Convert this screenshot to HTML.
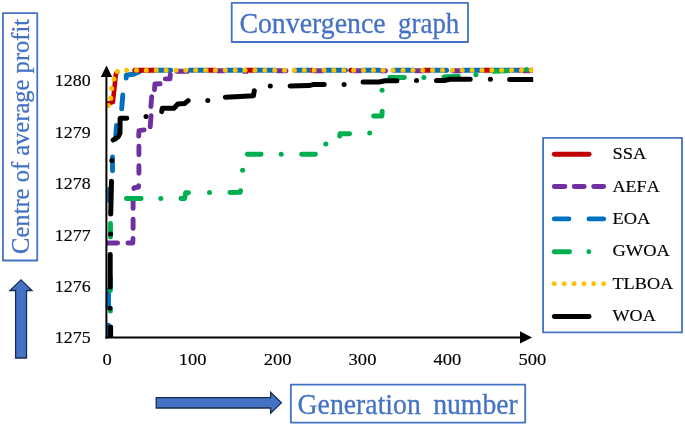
<!DOCTYPE html>
<html lang="en">
<head>
<meta charset="utf-8">
<title>Convergence graph</title>
<style>
html,body{margin:0;padding:0;background:#fff;}
body{width:685px;height:426px;overflow:hidden;}
svg{display:block;will-change:transform;}
text{font-family:"Liberation Serif",serif;}
.tick{font-size:17.9px;fill:#000;font-kerning:none;stroke:#000;stroke-width:0.15px;}
.lab{font-size:27.3px;fill:#4472C4;stroke:#4472C4;stroke-width:0.3px;}
.box{fill:none;stroke:#4472C4;stroke-width:1.8;stroke-linejoin:round;}
.shape{fill:#4472C4;stroke:#172C51;stroke-width:1.3;stroke-linejoin:miter;}
.ln{fill:none;stroke-width:4.9;stroke-linecap:round;stroke-linejoin:round;}
.red{stroke:#C00000;}
.pur{stroke:#7030A0;}
.blu{stroke:#0070C0;}
.grn{stroke:#00B050;}
.blk{stroke:#000;}
.yel{fill:#FFC000;}
</style>
</head>
<body>
<svg width="685" height="426" viewBox="0 0 685 426">
<defs><clipPath id="plot"><rect x="106.5" y="40" width="426.7" height="297.1"/></clipPath></defs>

<!-- title box -->
<rect class="box" x="231.7" y="2.93" width="236.3" height="39.07"/>
<text class="lab" style="font-size:29.2px" y="32.5" xml:space="preserve"><tspan x="239.4" textLength="146.2" lengthAdjust="spacingAndGlyphs">Convergence</tspan> <tspan x="398.05" textLength="61.25" lengthAdjust="spacingAndGlyphs">graph</tspan></text>

<!-- y label box -->
<rect class="box" x="2.93" y="13.1" width="34.32" height="247.4"/>
<text class="lab" style="font-size:25.8px" transform="translate(29.4,253.9) rotate(-90) scale(0.9514,1)" xml:space="preserve">Centre of average profit</text>

<!-- x label box -->
<rect class="box" x="290.85" y="384.7" width="234.35" height="37.9"/>
<text class="lab" style="font-size:28.6px" y="413.7" xml:space="preserve"><tspan x="297.6" textLength="123.2" lengthAdjust="spacingAndGlyphs">Generation</tspan> <tspan x="433.13" textLength="84.7" lengthAdjust="spacingAndGlyphs">number</tspan></text>

<!-- blue arrows -->
<path class="shape" d="M156.2 397.7 H270.6 V392.4 L281.4 402.85 L270.6 413.3 V408 H156.2 Z"/>
<path class="shape" d="M15.6 358 V290.5 H10 L21 279.9 L32 290.5 H26.5 V358 Z"/>

<!-- SERIES -->
<g clip-path="url(#plot)">
<path class="ln red" style="stroke-width:4.6" d="M106.9 103.7 L112.9 102 L114.7 85.4 L115.9 74 L117.2 72"/>
<path class="ln pur"  d="M106 243 L117.6 243 M127.9 243 L132.8 243 L133 238.5 M133.1 228.4 L133.1 219.2 M133.1 208.4 L133.1 198.9 M133.9 188.5 L134.2 187.6 L138.4 187.2 L138.6 185.6 M138.9 173.2 L138.9 165.8 M138.9 154.8 L138.9 146.1 M138.7 136.1 L139 130.6 L144.1 129.9 M150.2 126.8 L151.1 115.6 M150.9 106.5 L151.7 96.7 M154.5 89.7 L154.9 84 L160.1 83.8 M165.3 78.9 L170 78.8 L170.3 74.4"/>
<path class="ln blu"  d="M108.3 338.1 L108.3 325.3 M108.5 307.6 L108.5 289.9 M109.7 201.1 L109.6 188.9 M112.5 170.7 L112.5 156.9 M115.5 139.1 L116.5 125.4 M121.7 108.9 L122.8 94.9 M126.2 78.1 L126.4 75 L133.5 74.2 L138 72.3 L139.8 71.4"/>
<path d="M134.8 70.3 H156" stroke="#C00000" stroke-width="4.9" fill="none"/>
<circle cx="134.8" cy="70.3" r="2.5" fill="#C00000"/>
<path d="M155.5 70.3 H170.6" stroke="#0070C0" stroke-width="4.9" fill="none"/>
<circle cx="170.6" cy="70.3" r="2.5" fill="#0070C0"/>
<path d="M176.8 71.2 H189" stroke="#7030A0" stroke-width="4.9" fill="none"/>
<circle cx="176.8" cy="71.2" r="2.5" fill="#7030A0"/>
<path d="M188.8 70.3 H208.3" stroke="#0070C0" stroke-width="4.9" fill="none"/>
<path d="M208.3 70.3 H216.5" stroke="#C00000" stroke-width="4.9" fill="none"/>
<path d="M216.5 70.8 H225.2" stroke="#7030A0" stroke-width="4.9" fill="none"/>
<path d="M225.2 70.3 H242.8" stroke="#0070C0" stroke-width="4.9" fill="none"/>
<path d="M242.8 71.2 H248" stroke="#7030A0" stroke-width="4.9" fill="none"/>
<path d="M244.5 70.3 H257" stroke="#C00000" stroke-width="4.9" fill="none"/>
<path d="M257 70.3 H277" stroke="#0070C0" stroke-width="4.9" fill="none"/>
<path d="M277 70.8 H285.9" stroke="#7030A0" stroke-width="4.9" fill="none"/>
<circle cx="285.9" cy="70.8" r="2.5" fill="#7030A0"/>
<path d="M294.4 70.3 H310.3" stroke="#0070C0" stroke-width="4.9" fill="none"/>
<circle cx="294.4" cy="70.3" r="2.5" fill="#0070C0"/>
<path d="M310.3 70.3 H312.8" stroke="#C00000" stroke-width="4.9" fill="none"/>
<path d="M312.8 70.8 H324" stroke="#7030A0" stroke-width="4.9" fill="none"/>
<path d="M324 70.3 H345.4" stroke="#0070C0" stroke-width="4.9" fill="none"/>
<circle cx="345.4" cy="70.3" r="2.5" fill="#0070C0"/>
<path d="M350.8 70.3 H352.6" stroke="#C00000" stroke-width="4.9" fill="none"/>
<circle cx="350.8" cy="70.3" r="2.5" fill="#C00000"/>
<path d="M352.6 70.8 H361.4" stroke="#7030A0" stroke-width="4.9" fill="none"/>
<path d="M361.4 70.3 H380.2" stroke="#0070C0" stroke-width="4.9" fill="none"/>
<path d="M380.2 70.8 H385.4" stroke="#7030A0" stroke-width="4.9" fill="none"/>
<circle cx="385.4" cy="70.8" r="2.5" fill="#7030A0"/>
<path d="M393.3 70.3 H415" stroke="#0070C0" stroke-width="4.9" fill="none"/>
<circle cx="393.3" cy="70.3" r="2.5" fill="#0070C0"/>
<path d="M415 70.8 H423.5" stroke="#7030A0" stroke-width="4.9" fill="none"/>
<path d="M423.5 70.3 H430" stroke="#C00000" stroke-width="4.9" fill="none"/>
<path d="M430 70.3 H446.6" stroke="#0070C0" stroke-width="4.9" fill="none"/>
<circle cx="446.6" cy="70.3" r="2.5" fill="#0070C0"/>
<path d="M452.6 70.8 H462" stroke="#7030A0" stroke-width="4.9" fill="none"/>
<circle cx="452.6" cy="70.8" r="2.5" fill="#7030A0"/>
<path d="M462 70.3 H484" stroke="#0070C0" stroke-width="4.9" fill="none"/>
<path d="M484 70.3 H492" stroke="#C00000" stroke-width="4.9" fill="none"/>
<path d="M492 70.3 H519" stroke="#0070C0" stroke-width="4.9" fill="none"/>
<path d="M519 70.3 H523" stroke="#C00000" stroke-width="4.9" fill="none"/>
<path d="M523 70.8 H530" stroke="#7030A0" stroke-width="4.9" fill="none"/>
<path d="M530 70.3 H533.2" stroke="#C00000" stroke-width="4.9" fill="none"/>
<path class="ln grn"  d="M110.4 276.9 L110.4 290.6 M110.5 223.5 L110.5 237.1 M126.4 198.5 L141.2 198.5 M180.9 198.5 L184.6 198.5 L185.6 192.7 L188.5 192.7 M229.9 192.5 L240.2 192.4 L240.5 190.7 M247.3 154.2 L261.1 154.2 M301.6 154.2 L315.4 154.2 M339.7 136.1 L340 133.7 L349.6 133.7 M373.6 116 L382 116 L382.2 111.2 M389.8 77.5 L404.4 77.5 M443.9 76.9 L458.3 76.3 M493.2 71.3 L507.1 70.8"/>
<g fill="#00B050"><circle cx="110.4" cy="311" r="2.5"/><circle cx="160.8" cy="198.5" r="2.5"/><circle cx="209.5" cy="192.5" r="2.5"/><circle cx="242.6" cy="170.2" r="2.5"/><circle cx="281.2" cy="154.2" r="2.5"/><circle cx="325.8" cy="144" r="2.5"/><circle cx="369.7" cy="133.1" r="2.5"/><circle cx="382.1" cy="90.2" r="2.5"/><circle cx="423.9" cy="77.6" r="2.5"/><circle cx="475.9" cy="74.8" r="2.5"/><circle cx="526.5" cy="69.4" r="2.5"/></g>
<g fill="#FFC000"><circle cx="108.2" cy="105.4" r="2.5"/><circle cx="110.8" cy="98.2" r="2.5"/><circle cx="111.7" cy="88.6" r="2.5"/><circle cx="114" cy="79.1" r="2.5"/><circle cx="117.3" cy="71.4" r="2.5"/><circle cx="126.6" cy="70.3" r="2.5"/><circle cx="136.5" cy="70.3" r="2.5"/><circle cx="146.3" cy="70.3" r="2.5"/><circle cx="156.2" cy="70.3" r="2.5"/><circle cx="166.1" cy="70.3" r="2.5"/><circle cx="176" cy="70.3" r="2.5"/><circle cx="185.8" cy="70.3" r="2.5"/><circle cx="195.7" cy="70.3" r="2.5"/><circle cx="205.6" cy="70.3" r="2.5"/><circle cx="215.4" cy="70.3" r="2.5"/><circle cx="225.3" cy="70.3" r="2.5"/><circle cx="235.2" cy="70.3" r="2.5"/><circle cx="245.1" cy="70.3" r="2.5"/><circle cx="254.9" cy="70.3" r="2.5"/><circle cx="264.8" cy="70.3" r="2.5"/><circle cx="274.7" cy="70.3" r="2.5"/><circle cx="284.5" cy="70.3" r="2.5"/><circle cx="294.4" cy="70.3" r="2.5"/><circle cx="304.3" cy="70.3" r="2.5"/><circle cx="314.1" cy="70.3" r="2.5"/><circle cx="324" cy="70.3" r="2.5"/><circle cx="333.9" cy="70.3" r="2.5"/><circle cx="343.8" cy="70.3" r="2.5"/><circle cx="353.6" cy="70.3" r="2.5"/><circle cx="363.5" cy="70.3" r="2.5"/><circle cx="373.4" cy="70.3" r="2.5"/><circle cx="383.2" cy="70.3" r="2.5"/><circle cx="393.1" cy="70.3" r="2.5"/><circle cx="403" cy="70.3" r="2.5"/><circle cx="412.9" cy="70.3" r="2.5"/><circle cx="422.7" cy="70.3" r="2.5"/><circle cx="432.6" cy="70.3" r="2.5"/><circle cx="442.5" cy="70.3" r="2.5"/><circle cx="452.3" cy="70.3" r="2.5"/><circle cx="462.2" cy="70.3" r="2.5"/><circle cx="472.1" cy="70.3" r="2.5"/><circle cx="482" cy="70.3" r="2.5"/><circle cx="491.8" cy="70.3" r="2.5"/><circle cx="501.7" cy="70.3" r="2.5"/><circle cx="511.6" cy="70.3" r="2.5"/><circle cx="521.4" cy="70.3" r="2.5"/><circle cx="531.3" cy="70.3" r="2.5"/></g>
<path class="ln blk" style="stroke-width:5" d="M110.2 287.1 L110.2 254.4 M110.7 214.1 L111.5 181.3 M113.1 140 L118.4 136.6 L120 133 L120.1 118.3 L126.8 118.2 M161.7 111.6 L162.3 108.2 L174 108.2 L177.8 104 L184.5 103.6 L188.1 100.6 M225.3 97.2 L240 96.4 L253.5 95.7 L254.3 90.7 M290.1 85.9 L309 85.6 L313 84.6 L324.2 84.6 M363.1 82 L379 82 L385 80.7 L396.9 80.7 M436.4 80.6 L445 80.4 L450 79.2 L470.2 79.2 M509.6 79.5 L538 79.5"/>
<path d="M110.6 338 V327" stroke="#000" stroke-width="5" stroke-linecap="round" fill="none"/>
<g fill="#000"><circle cx="110.2" cy="308.3" r="2.5"/><circle cx="110.6" cy="234" r="2.5"/><circle cx="111.8" cy="160.5" r="2.5"/><circle cx="146" cy="116.5" r="2.5"/><circle cx="207.8" cy="100.4" r="2.5"/><circle cx="270.3" cy="86" r="2.5"/><circle cx="344.1" cy="84.5" r="2.5"/><circle cx="416.5" cy="80.5" r="2.5"/><circle cx="490.4" cy="79.2" r="2.5"/></g>
</g>

<!-- axes -->
<g id="axes">
<path d="M106.4 338.4 V72" stroke="#000" stroke-width="2" fill="none"/>
<path d="M106.5 65.4 L112.2 77 H100.8 Z" fill="#000"/>
<path d="M105.4 337.45 H524" stroke="#000" stroke-width="2" fill="none"/>
<path d="M532 337.4 L520 331.2 V343.6 Z" fill="#000"/>
</g>

<!-- tick labels -->
<g class="tick" style="font-size:17.2px">
<text x="54.8" y="86.35" textLength="35.8" lengthAdjust="spacingAndGlyphs">1280</text>
<text x="54.8" y="137.75" textLength="35.8" lengthAdjust="spacingAndGlyphs">1279</text>
<text x="54.8" y="189.15" textLength="35.8" lengthAdjust="spacingAndGlyphs">1278</text>
<text x="54.8" y="240.55" textLength="35.8" lengthAdjust="spacingAndGlyphs">1277</text>
<text x="54.8" y="291.95" textLength="35.8" lengthAdjust="spacingAndGlyphs">1276</text>
<text x="54.8" y="343.35" textLength="35.8" lengthAdjust="spacingAndGlyphs">1275</text>
</g>
<g class="tick" style="font-size:17px">
<text x="102.50" y="365.2" textLength="9.27" lengthAdjust="spacingAndGlyphs">0</text>
<text x="178.70" y="365.2" textLength="27.80" lengthAdjust="spacingAndGlyphs">100</text>
<text x="263.65" y="365.2" textLength="27.80" lengthAdjust="spacingAndGlyphs">200</text>
<text x="348.60" y="365.2" textLength="27.80" lengthAdjust="spacingAndGlyphs">300</text>
<text x="433.55" y="365.2" textLength="27.80" lengthAdjust="spacingAndGlyphs">400</text>
<text x="518.50" y="365.2" textLength="27.80" lengthAdjust="spacingAndGlyphs">500</text>
</g>

<!-- legend -->
<g id="legend">
<rect class="box" x="543.1" y="137.85" width="138.9" height="194.55"/>
<path class="ln red" d="M554.3 154.2 H589.1"/>
<path class="ln pur" d="M554.3 186.5 H564.9 M574.2 186.5 H584.2 M593.7 186.5 H603.7"/>
<path class="ln blu" d="M554.3 218.9 H568.9 M589 218.9 H603.7"/>
<path class="ln grn" d="M554.3 251.7 H569.6 M588.8 251.7 h0.01"/>
<g class="yel">
<circle cx="554.3" cy="283.8" r="2.45"/><circle cx="564.2" cy="283.8" r="2.45"/><circle cx="574" cy="283.8" r="2.45"/>
<circle cx="583.9" cy="283.8" r="2.45"/><circle cx="593.7" cy="283.8" r="2.45"/><circle cx="603.7" cy="283.8" r="2.45"/>
</g>
<path class="ln blk" d="M554.3 316.5 H589.1"/>
<g class="tick" style="font-size:16.5px">
<text x="612.5" y="159.3" textLength="33.8" lengthAdjust="spacingAndGlyphs">SSA</text>
<text x="612.5" y="191.6" textLength="47.2" lengthAdjust="spacingAndGlyphs">AEFA</text>
<text x="612.5" y="223.9" textLength="37.9" lengthAdjust="spacingAndGlyphs">EOA</text>
<text x="612.5" y="256.3" textLength="57.3" lengthAdjust="spacingAndGlyphs">GWOA</text>
<text x="612.5" y="288.6" textLength="60.7" lengthAdjust="spacingAndGlyphs">TLBOA</text>
<text x="612.5" y="321.3" textLength="43.2" lengthAdjust="spacingAndGlyphs">WOA</text>
</g>
</g>
</svg>
</body>
</html>
